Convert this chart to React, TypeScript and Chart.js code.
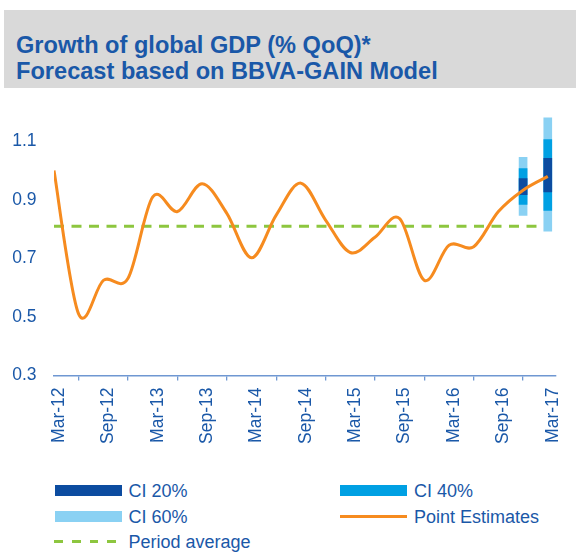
import React, { useEffect, useRef } from "react";
import { Chart, registerables } from "chart.js";

Chart.register(...registerables);

// ---- data ----
const quarters = [
  "Mar-12", "Jun-12", "Sep-12", "Dec-12",
  "Mar-13", "Jun-13", "Sep-13", "Dec-13",
  "Mar-14", "Jun-14", "Sep-14", "Dec-14",
  "Mar-15", "Jun-15", "Sep-15", "Dec-15",
  "Mar-16", "Jun-16", "Sep-16", "Dec-16",
  "Mar-17",
];
const pointEstimates = [
  1.0, 0.51, 0.625, 0.632,
  0.91, 0.86, 0.955, 0.854,
  0.702, 0.848, 0.957, 0.831,
  0.72, 0.772, 0.836, 0.625,
  0.745, 0.74, 0.86, 0.933,
  0.98,
];
const periodAverage = 0.81;
const tickLabels = [
  "Mar-12", "Sep-12", "Mar-13", "Sep-13", "Mar-14", "Sep-14",
  "Mar-15", "Sep-15", "Mar-16", "Sep-16", "Mar-17",
];
const yTicks = [0.3, 0.5, 0.7, 0.9, 1.1];
const forecastQuarters = ["Dec-16", "Mar-17"];
const ci20 = [[0.918, 0.973], [0.927, 1.042]];
const ci40 = [[0.884, 1.007], [0.864, 1.106]];
const ci60 = [[0.847, 1.045], [0.793, 1.18]];

// ---- style ----
const FONT = '"Liberation Sans", Arial, Helvetica, sans-serif';
const TEXT_BLUE = "#1a58a8";
const AXIS_BLUE = "#6f97d2";
const C_DARK = "#0c4ca0";
const C_MID = "#00a0e3";
const C_LIGHT = "#8ad1f3";
const C_ORANGE = "#f68b1f";
const C_GREEN = "#8dc63f";

const CANVAS_W = 576;
const CANVAS_H = 470;

// Excel-like (uniform Catmull-Rom) smoothing of the line's bezier control points
const excelSmooth = {
  id: "excelSmooth",
  beforeDatasetDraw(chart: any, args: any) {
    const ds: any = chart.data.datasets[args.index];
    if (!ds.excelSmooth) return;
    const meta = args.meta;
    const pts = meta.data;
    const n = pts.length;
    if (meta.dataset && meta.dataset.updateControlPoints) {
      meta.dataset.updateControlPoints(chart.chartArea, "x");
    }
    for (let i = 0; i < n; i++) {
      const p = pts[i];
      const prev = pts[Math.max(0, i - 1)];
      const next = pts[Math.min(n - 1, i + 1)];
      const dx = (next.x - prev.x) / 6;
      const dy = (next.y - prev.y) / 6;
      p.cp1x = p.x - dx;
      p.cp1y = p.y - dy;
      p.cp2x = p.x + dx;
      p.cp2y = p.y + dy;
    }
    if (meta.dataset) {
      meta.dataset._pointsUpdated = true;
      meta.dataset._path = undefined;
    }
  },
};

function ciData(ranges: number[][]) {
  return forecastQuarters.map((q, k) => ({ x: quarters.indexOf(q), y: ranges[k] }));
}

export default function App() {
  const ref = useRef<HTMLCanvasElement | null>(null);

  useEffect(() => {
    if (!ref.current) return;
    const last = quarters.length - 1;
    const chart = new Chart(ref.current, {
      type: "bar",
      data: {
        datasets: [
          {
            type: "line",
            label: "Point Estimates",
            data: pointEstimates.map((v, i) => ({ x: i, y: v })),
            borderColor: C_ORANGE,
            backgroundColor: C_ORANGE,
            borderWidth: 3,
            pointRadius: 0,
            tension: 0.4,
            capBezierPoints: false,
            order: 0,
            excelSmooth: true,
          } as any,
          {
            type: "bar",
            label: "CI 20%",
            data: ciData(ci20),
            backgroundColor: C_DARK,
            barThickness: 8,
            grouped: false,
            order: 1,
          } as any,
          {
            type: "bar",
            label: "CI 40%",
            data: ciData(ci40),
            backgroundColor: C_MID,
            barThickness: 8,
            grouped: false,
            order: 2,
          } as any,
          {
            type: "bar",
            label: "CI 60%",
            data: ciData(ci60),
            backgroundColor: C_LIGHT,
            barThickness: 8,
            grouped: false,
            order: 3,
          } as any,
          {
            type: "line",
            label: "Period average",
            data: [
              { x: 0, y: periodAverage },
              { x: last, y: periodAverage },
            ],
            borderColor: C_GREEN,
            borderWidth: 3,
            borderDash: [10, 7.5],
            pointRadius: 0,
            tension: 0,
            order: 4,
          } as any,
        ],
      },
      options: {
        responsive: false,
        animation: false,
        events: [],
        layout: { padding: { top: 112, right: 14, left: 0, bottom: 0 } },
        plugins: {
          legend: { display: false },
          tooltip: { enabled: false },
          title: { display: false },
        },
        scales: {
          x: {
            type: "linear",
            offset: false,
            min: 0,
            max: 20.33,
            afterBuildTicks: (scale: any) => {
              scale.ticks = tickLabels.map((l) => ({ value: quarters.indexOf(l) }));
            },
            afterFit: (scale: any) => {
              scale.height = CANVAS_H - 375.5;
            },
            grid: {
              display: true,
              drawOnChartArea: false,
              drawTicks: true,
              tickLength: 5,
              color: AXIS_BLUE,
              lineWidth: 1.3,
            },
            border: { display: true, color: AXIS_BLUE, width: 1.5 },
            ticks: {
              autoSkip: false,
              minRotation: 90,
              maxRotation: 90,
              padding: 7,
              labelOffset: 5,
              color: TEXT_BLUE,
              font: { family: FONT, size: 17.5 },
              callback: (v: any) => quarters[Number(v)] ?? "",
            },
          },
          y: {
            type: "linear",
            min: 0.3,
            max: 1.2,
            afterBuildTicks: (scale: any) => {
              scale.ticks = yTicks.map((v) => ({ value: v }));
            },
            afterFit: (scale: any) => {
              scale.width = 54;
            },
            grid: { display: false, drawTicks: false },
            border: { display: false },
            ticks: {
              padding: 17.5,
              color: TEXT_BLUE,
              font: { family: FONT, size: 17.5 },
              callback: (v: any) => Number(v).toFixed(1),
            },
          },
        },
      },
      plugins: [excelSmooth],
    } as any);
    return () => chart.destroy();
  }, []);

  const legendText: React.CSSProperties = {
    position: "absolute",
    font: `18px ${FONT}`,
    lineHeight: "18px",
    color: TEXT_BLUE,
    whiteSpace: "nowrap",
  };
  const dash = (left: number) => (
    <div
      key={left}
      style={{ position: "absolute", left, top: 540.2, width: 8.8, height: 3, background: C_GREEN }}
    />
  );

  return (
    <div
      style={{
        position: "absolute",
        left: 0,
        top: 0,
        width: 576,
        height: 554,
        background: "#ffffff",
        overflow: "hidden",
        fontFamily: FONT,
      }}
    >
      <div
        style={{
          position: "absolute",
          left: 4,
          top: 10,
          width: 572,
          height: 78,
          background: "#d9d9d9",
        }}
      />
      <div
        style={{
          position: "absolute",
          left: 16,
          top: 31.8,
          font: `bold 23.6px ${FONT}`,
          lineHeight: "26px",
          color: TEXT_BLUE,
          whiteSpace: "nowrap",
        }}
      >
        Growth of global GDP (% QoQ)*
        <br />
        Forecast based on BBVA-GAIN Model
      </div>
      <canvas
        ref={ref}
        width={CANVAS_W}
        height={CANVAS_H}
        style={{ position: "absolute", left: 0, top: 0, width: CANVAS_W, height: CANVAS_H }}
      />
      {/* legend */}
      <div style={{ position: "absolute", left: 55, top: 485, width: 67, height: 10.5, background: C_DARK }} />
      <div style={{ ...legendText, left: 128.5, top: 481.8 }}>CI 20%</div>
      <div style={{ position: "absolute", left: 340, top: 485, width: 67, height: 10.5, background: C_MID }} />
      <div style={{ ...legendText, left: 414, top: 481.8 }}>CI 40%</div>
      <div style={{ position: "absolute", left: 55, top: 510.5, width: 67, height: 11, background: C_LIGHT }} />
      <div style={{ ...legendText, left: 128.5, top: 507.5 }}>CI 60%</div>
      <div style={{ position: "absolute", left: 340, top: 514.5, width: 67, height: 3, background: C_ORANGE }} />
      <div style={{ ...legendText, left: 414, top: 507.5 }}>Point Estimates</div>
      {[54.4, 72, 89.6, 107.2].map(dash)}
      <div style={{ ...legendText, left: 128.5, top: 533.3 }}>Period average</div>
    </div>
  );
}
